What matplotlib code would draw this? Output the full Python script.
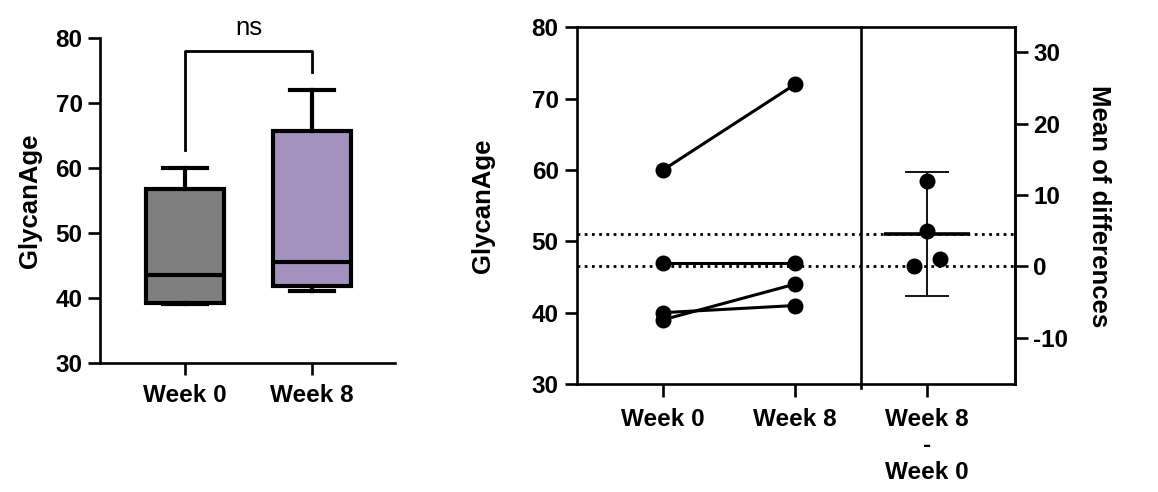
import numpy as np
import matplotlib
matplotlib.use('Agg')
import matplotlib.pyplot as plt

plt.rcParams['font.family'] = ['Liberation Sans', 'DejaVu Sans']
plt.rcParams['axes.unicode_minus'] = False

# box plot summary values
groups = ['Week 0', 'Week 8']
box_colors = ['#7f7f7f', '#a491be']
q1 = [39.25, 41.75]
med = [43.5, 45.5]
q3 = [56.75, 65.75]
wlo = [39, 41]
whi = [60, 72]

# paired values
week0 = [60, 47, 40, 39]
week8 = [72, 47, 41, 44]
diffs = [12, 0, 1, 5]
diff_jitter = [0.0, -0.1, 0.1, 0.0]
baseline = 46.5          # week 0 mean, zero of the right axis
diff_mean = 4.5
ci_low, ci_high = -4.2, 13.2

TICK = 17.5
LAB = 18.5
SPW = 1.9

fig = plt.figure(figsize=(11.58, 4.92), dpi=100)

# ---------- left panel: box plot
ax1 = fig.add_axes([0.0864, 0.2628, 0.2547, 0.6594])
stats = []
for i in range(len(groups)):
    stats.append(dict(med=med[i], q1=q1[i], q3=q3[i], whislo=wlo[i], whishi=whi[i],
                      fliers=[], label=groups[i]))
bp = ax1.bxp(stats, positions=[1, 2], widths=0.62, capwidths=0.35, patch_artist=True,
             showfliers=False,
             boxprops=dict(linewidth=3, edgecolor='black'),
             whiskerprops=dict(linewidth=3, color='black'),
             capprops=dict(linewidth=3, color='black'),
             medianprops=dict(linewidth=3, color='black'))
for patch, c in zip(bp['boxes'], box_colors):
    patch.set_facecolor(c)

ax1.set_xlim(0.331, 2.654)
ax1.set_ylim(30, 80)
ax1.set_yticks([30, 40, 50, 60, 70, 80])
ax1.set_xticks([1, 2])
ax1.set_xticklabels(groups)
for s in ['top', 'right']:
    ax1.spines[s].set_visible(False)
for s in ['left', 'bottom']:
    ax1.spines[s].set_linewidth(SPW)
ax1.tick_params(length=8.6, width=SPW, labelsize=TICK, pad=4)
ax1.tick_params(axis='x', pad=7)
for t in ax1.get_xticklabels() + ax1.get_yticklabels():
    t.set_fontweight('bold')
ax1.set_ylabel('GlycanAge', fontsize=LAB, fontweight='bold')
ax1.yaxis.set_label_coords(-0.197, 0.5)

# significance bracket
ax1.plot([1, 1, 2, 2], [62.8, 78, 78, 74.8], color='black', lw=2, clip_on=False)
ax1.text(1.5, 81.6, 'ns', ha='center', va='center', fontsize=LAB, clip_on=False)

# ---------- right panel: before/after + estimation
ax2 = fig.add_axes([0.498, 0.2195, 0.3785, 0.725])
for a, b in zip(week0, week8):
    ax2.plot([0, 1], [a, b], color='black', lw=2.2, marker='o', ms=10.5, zorder=3)
ax2.axvline(1.5, ymin=-0.01, ymax=1, color='black', lw=SPW, clip_on=False)
ax2.set_xlim(-0.654, 2.667)
ax2.set_ylim(30, 80)
ax2.set_yticks([30, 40, 50, 60, 70, 80])
ax2.set_xticks([0, 1, 2])
ax2.set_xticklabels(['Week 0', 'Week 8', 'Week 8\n-\nWeek 0'])
for s in ax2.spines.values():
    s.set_linewidth(SPW)
ax2.tick_params(length=9, width=SPW, labelsize=TICK, pad=4)
ax2.tick_params(axis='x', pad=8)
for t in ax2.get_xticklabels() + ax2.get_yticklabels():
    t.set_fontweight('bold')
ax2.set_ylabel('GlycanAge', fontsize=LAB, fontweight='bold')
ax2.yaxis.set_label_coords(-0.186, 0.5)

ax3 = ax2.twinx()
ax3.set_ylim(30 - baseline, 80 - baseline)
ax3.set_yticks([-10, 0, 10, 20, 30])
for s in ['left', 'top', 'bottom']:
    ax3.spines[s].set_visible(False)
ax3.spines['right'].set_linewidth(SPW)
ax3.tick_params(length=9, width=SPW, labelsize=TICK, pad=4)
for t in ax3.get_yticklabels():
    t.set_fontweight('bold')

ax3.axhline(0, color='black', lw=2, ls=(0, (1, 1.6)))
ax3.axhline(diff_mean, color='black', lw=2, ls=(0, (1, 1.6)))
ax3.hlines(diff_mean, 2 - 0.325, 2 + 0.325, color='black', lw=2.6, zorder=4)
ax3.errorbar([2], [diff_mean], yerr=[[diff_mean - ci_low], [ci_high - diff_mean]],
             fmt='none', ecolor='black', elinewidth=1.3, capsize=16, capthick=1.3, zorder=4)
ax3.plot(np.array(diff_jitter) + 2, diffs, 'o', color='black', ms=10.5, zorder=5)

ax3.set_ylabel('Mean of differences', fontsize=LAB, fontweight='bold', rotation=270, va='bottom')
ax3.yaxis.set_label_coords(1.165, 0.5)

fig.savefig('out.png', dpi=100)
